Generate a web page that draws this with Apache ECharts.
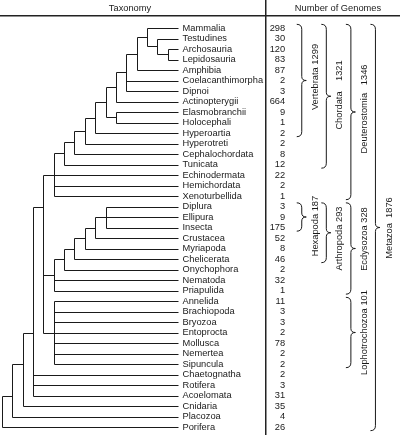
<!DOCTYPE html>
<html><head><meta charset="utf-8">
<script src="https://cdn.jsdelivr.net/npm/echarts@6/dist/echarts.min.js"></script>
<style>html,body{margin:0;padding:0;background:#fff}#c{width:400px;height:435px}</style>
</head><body><div id="c"></div>
<script>
// ---- data ----
const taxa = ['Mammalia','Testudines','Archosauria','Lepidosauria','Amphibia','Coelacanthimorpha','Dipnoi',
  'Actinopterygii','Elasmobranchii','Holocephali','Hyperoartia','Hyperotreti','Cephalochordata','Tunicata',
  'Echinodermata','Hemichordata','Xenoturbellida','Diplura','Ellipura','Insecta','Crustacea','Myriapoda',
  'Chelicerata','Onychophora','Nematoda','Priapulida','Annelida','Brachiopoda','Bryozoa','Entoprocta',
  'Mollusca','Nemertea','Sipuncula','Chaetognatha','Rotifera','Acoelomata','Cnidaria','Placozoa','Porifera'];
const genomes = [298,30,120,83,87,2,3,664,9,1,2,2,8,12,22,2,1,3,9,175,52,8,46,2,32,1,11,3,3,2,78,2,2,2,3,31,35,4,26];

// internal nodes of the cladogram (depth level; tips sit at level 17)
const nodeIds    = ['A1','A2','A3','A4','A5','A6','A7','A8','A9','A10','A11','A12','Deut',
                    'Hexa','Pan','Mand','Arth','Panar','Ecdy','Loph','Bila','C','D','E','Root'];
const nodeLevels = [16,15,14,13,12,11,11,10,9,8,7,6,5, 10,9,8,7,6,5,5,4,3,2,1,0];
const nodeKids   = [
  ['Archosauria','Lepidosauria'],['Testudines','A1'],['Mammalia','A2'],['A3','Amphibia'],
  ['A4','Coelacanthimorpha','Dipnoi'],['A5','Actinopterygii'],['Elasmobranchii','Holocephali'],['A6','A7'],
  ['A8','Hyperoartia'],['A9','Hyperotreti'],['A10','Cephalochordata'],['A11','Tunicata'],
  ['A12','Echinodermata','Hemichordata','Xenoturbellida'],
  ['Diplura','Ellipura','Insecta'],['Hexa','Crustacea'],['Pan','Myriapoda'],['Mand','Chelicerata'],
  ['Arth','Onychophora'],['Panar','Nematoda','Priapulida'],
  ['Annelida','Brachiopoda','Bryozoa','Entoprocta','Mollusca','Nemertea','Sipuncula'],
  ['Deut','Ecdy','Loph'],['Bila','Chaetognatha','Rotifera','Acoelomata'],['C','Cnidaria'],['D','Placozoa'],['E','Porifera']];
// rows where a node's stem attaches (others: midpoint of children)
const nodeRowRead = {Bila:17, C:29, D:32, E:35};
const tipLevel = 17;

// brackets on the right
const braceNames  = ['Vertebrata','Chordata','Deuterostomia','Metazoa','Hexapoda','Arthropoda','Ecdysozoa','Lophotrochozoa'];
const braceCounts = [1299,1321,1346,1876,187,293,328,101];
const braceFirst  = [0,0,0,0,17,17,17,26];
const braceLast   = [10,13,16,38,19,22,25,32];
const braceLevel  = [1,2,3,4,1,2,3,3];
const braceLabelRow = [4.67,6.38,7.71,19.05,18.86,20.05,20.1,29.0];
const braceGap    = [' ','    ','   ','  ',' ',' ',' ',' '];

// ---- build ----
const rowOf = {};
taxa.forEach((t,i)=>rowOf[t]=i);
const levelOf = {};
taxa.forEach(t=>levelOf[t]=tipLevel);
nodeIds.forEach((id,i)=>levelOf[id]=nodeLevels[i]);
const kidsOf = {};
nodeIds.forEach((id,i)=>kidsOf[id]=nodeKids[i]);
function getRow(id){
  if (rowOf[id]!==undefined) return rowOf[id];
  if (nodeRowRead[id]!==undefined) return (rowOf[id]=nodeRowRead[id]);
  const rs = kidsOf[id].map(getRow);
  return (rowOf[id]=(Math.min(...rs)+Math.max(...rs))/2);
}
const segs = [];
nodeIds.forEach(id=>{
  const lv = levelOf[id];
  const rs = kidsOf[id].map(getRow);
  segs.push([lv, Math.min(...rs), lv, Math.max(...rs)]);
  kidsOf[id].forEach(k=>segs.push([lv, getRow(k), levelOf[k], getRow(k)]));
});
const tipData = taxa.map((t,i)=>[tipLevel, i, t]);
const countData = genomes.map((g,i)=>[0, i, g]);
const braceData = braceNames.map((n,i)=>[braceLevel[i], braceFirst[i]-0.35, braceLast[i]+0.35, braceLabelRow[i], n+braceGap[i]+braceCounts[i]]);

const FONT_FAMILY = '"Liberation Sans", Arial, Helvetica, sans-serif';
const FS = 9.3;
const FONT = FS + 'px ' + FONT_FAMILY;
const INK = '#1a1a1a';
const px = v => Math.round(v) + 0.5;

const chart = echarts.init(document.getElementById('c'), null, {renderer:'canvas'});
chart.setOption({
  animation:false,
  backgroundColor:'#fff',
  grid:[
    {left:2, top:28, width:176, height:399},
    {left:277.2, top:28, width:124, height:399}
  ],
  xAxis:[
    {type:'value', min:0, max:17, show:false, gridIndex:0},
    {type:'value', min:0, max:5, show:false, gridIndex:1}
  ],
  yAxis:[
    {type:'value', min:0, max:38, inverse:true, show:false, gridIndex:0},
    {type:'value', min:0, max:38, inverse:true, show:false, gridIndex:1}
  ],
  graphic:[
    {type:'text', x:130, y:8, style:{text:'Taxonomy', font:FONT, fill:INK, align:'center', verticalAlign:'middle', textAlign:'center', textVerticalAlign:'middle'}},
    {type:'text', x:338, y:8, style:{text:'Number of Genomes', font:FONT, fill:INK, align:'center', verticalAlign:'middle', textAlign:'center', textVerticalAlign:'middle'}},
    {type:'line', shape:{x1:0, y1:15.75, x2:400, y2:15.75}, style:{stroke:'#222', lineWidth:1.5}},
    {type:'line', shape:{x1:265.75, y1:0, x2:265.75, y2:435}, style:{stroke:'#222', lineWidth:1.5}}
  ],
  series:[
    {
      type:'custom', xAxisIndex:0, yAxisIndex:0, data:segs, encode:{x:[0,2], y:[1,3]},
      renderItem:(params, api)=>{
        const a = api.coord([api.value(0), api.value(1)]);
        const b = api.coord([api.value(2), api.value(3)]);
        return {type:'line', shape:{x1:px(a[0]), y1:px(a[1]), x2:px(b[0]), y2:px(b[1])},
          style:{stroke:INK, lineWidth:1}};
      }
    },
    {
      type:'custom', xAxisIndex:0, yAxisIndex:0, data:tipData, encode:{x:0, y:1},
      renderItem:(params, api)=>{
        const p = api.coord([api.value(0), api.value(1)]);
        return {type:'text', x:p[0]+4.5, y:p[1],
          style:{text:tipData[params.dataIndex][2], font:FONT, fill:INK, align:'left', verticalAlign:'middle', textAlign:'left', textVerticalAlign:'middle'}};
      }
    },
    {
      type:'custom', xAxisIndex:1, yAxisIndex:1, data:countData, encode:{x:0, y:1},
      renderItem:(params, api)=>{
        const p = api.coord([api.value(0), api.value(1)]);
        return {type:'text', x:p[0]+8, y:p[1],
          style:{text:String(api.value(2)), font:FONT, fill:INK, align:'right', verticalAlign:'middle', textAlign:'right', textVerticalAlign:'middle'}};
      }
    },
    {
      type:'custom', xAxisIndex:1, yAxisIndex:1, data:braceData, encode:{x:0, y:[1,2]},
      renderItem:(params, api)=>{
        const d = braceData[params.dataIndex];
        const top = api.coord([d[0], d[1]]);
        const bot = api.coord([d[0], d[2]]);
        const lab = api.coord([d[0], d[3]]);
        const xs = top[0], yt = top[1], yb = bot[1], ym = (yt+yb)/2;
        const xe = xs-5, xp = xs+4.5, r = 5, rm = 4;
        const st = {stroke:INK, lineWidth:1, fill:null};
        return {type:'group', children:[
          {type:'bezierCurve', shape:{x1:xe, y1:yt, cpx1:xs, cpy1:yt, x2:xs, y2:yt+r}, style:st},
          {type:'line', shape:{x1:xs, y1:yt+r, x2:xs, y2:ym-rm}, style:st},
          {type:'bezierCurve', shape:{x1:xs, y1:ym-rm, cpx1:xs, cpy1:ym, x2:xp, y2:ym}, style:st},
          {type:'bezierCurve', shape:{x1:xp, y1:ym, cpx1:xs, cpy1:ym, x2:xs, y2:ym+rm}, style:st},
          {type:'line', shape:{x1:xs, y1:ym+rm, x2:xs, y2:yb-r}, style:st},
          {type:'bezierCurve', shape:{x1:xs, y1:yb-r, cpx1:xs, cpy1:yb, x2:xe, y2:yb}, style:st},
          {type:'text', x:xs+13.5, y:lab[1], rotation:Math.PI/2,
            style:{text:d[4], font:FONT, fill:INK, align:'center', verticalAlign:'middle', textAlign:'center', textVerticalAlign:'middle'}}
        ]};
      }
    }
  ]
});
</script></body></html>
